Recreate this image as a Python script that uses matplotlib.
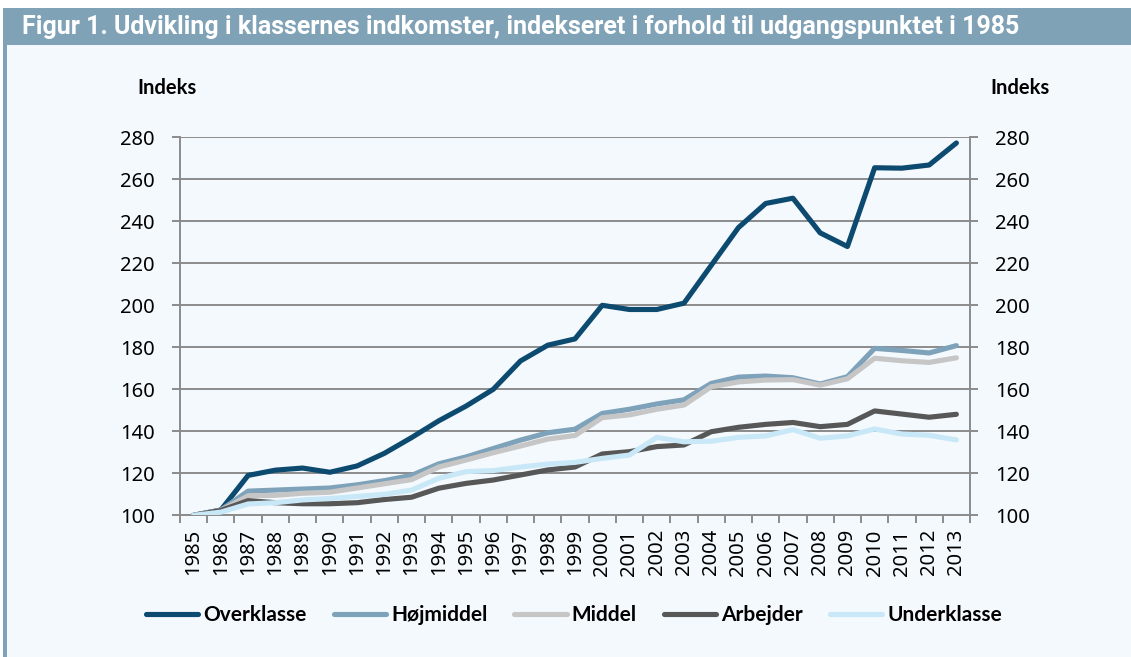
import matplotlib
matplotlib.use("Agg")
import matplotlib.pyplot as plt
from matplotlib.patches import Rectangle
import numpy as np

years = [str(y) for y in range(1985, 2014)]
overklasse = [100, 102.5, 119, 121.5, 122.5, 120.5, 123.5, 129.5, 137, 145, 152, 160, 173.5, 181, 184,
              200, 198, 198, 201, 219, 237, 248.5, 251, 234.5, 228, 265.5, 265.3, 266.8, 277.3]
hojmiddel = [100, 102.5, 111.5, 112, 112.5, 113, 114.5, 116.5, 119, 124.5, 127.8, 131.8, 135.8, 139.3, 141,
             148.5, 150.5, 153, 155, 162.8, 165.8, 166.3, 165.5, 162.5, 166, 179.5, 178.5, 177.3, 180.8]
middel = [100, 102.3, 109.3, 109.5, 110.5, 111, 113, 115, 117, 123, 126.3, 129.8, 133, 136.3, 138,
          146.5, 147.8, 150.5, 152.5, 161.2, 163.5, 164.4, 164.6, 162, 165, 174.8, 173.6, 172.8, 175]
arbejder = [100, 102.3, 107, 106, 105.5, 105.5, 106, 107.5, 108.6, 112.9, 115.2, 116.8, 119.2, 121.6, 123,
            129.2, 130.3, 132.7, 133.5, 139.8, 141.9, 143.3, 144.2, 142.2, 143.3, 149.7, 148.2, 146.7, 148.1]
underklasse = [100, 101.5, 105.4, 106, 107.3, 108, 109, 110, 112, 117.6, 120.8, 121.3, 123, 124.4, 125.2,
               127.1, 128.7, 137.1, 135, 135.3, 137.1, 137.8, 140.8, 136.7, 137.8, 141.1, 138.7, 138.1, 135.9]

series = ["Overklasse", "Højmiddel", "Middel", "Arbejder", "Underklasse"]
colors = ["#0d4a70", "#7ea2b9", "#c6c6c6", "#575757", "#c8e8f8"]
values = [overklasse, hojmiddel, middel, arbejder, underklasse]
yticks = list(range(100, 281, 20))

W, H = 1131, 657
fig = plt.figure(figsize=(W / 100, H / 100), dpi=100, facecolor="white")

bar_col = "#7fa2b7"
bg_col = "#f4f9fd"
grid_col = "#8c8c8c"

# background panel, title bar, left strip
fig.add_artist(Rectangle((7 / W, 0), 1 - 7 / W, 1 - 45 / H, transform=fig.transFigure,
                         facecolor=bg_col, edgecolor="none", zorder=0))
fig.add_artist(Rectangle((3 / W, 1 - 45 / H), 1 - 3 / W, 37 / H, transform=fig.transFigure,
                         facecolor=bar_col, edgecolor="none", zorder=0))
fig.add_artist(Rectangle((3 / W, 0), 4 / W, 1 - 45 / H, transform=fig.transFigure,
                         facecolor=bar_col, edgecolor="none", zorder=0))

fig.text(22 / W, 1 - 27 / H, "Figur 1. Udvikling i klassernes indkomster, indekseret i forhold til udgangspunktet i 1985",
         color="white", fontsize=18, fontweight="bold", family="Roboto", va="center", ha="left")

ax = fig.add_axes([180 / W, 1 - 515.3 / H, 790 / W, 378 / H])
ax.set_facecolor("none")

x = np.arange(len(years))
for name, vals, col in zip(series, values, colors):
    ax.plot(x, vals, color=col, lw=3.7, label=name, solid_capstyle="round",
            solid_joinstyle="round", zorder=3)

ax.set_xlim(-0.5, len(years) - 0.5)
ax.set_ylim(100, 280)
ax.set_yticks(yticks)
ax.yaxis.grid(True, color=grid_col, lw=1.4, zorder=1)
ax.set_axisbelow(True)

ax.spines["top"].set_visible(False)
for s in ["left", "right", "bottom"]:
    ax.spines[s].set_color(grid_col)
    ax.spines[s].set_linewidth(1.4)

ax.set_xticks(np.arange(-0.5, len(years), 1.0))
ax.set_xticklabels([])
ax.set_xticks(x, minor=True)
ax.set_xticklabels(years, minor=True, rotation=90, fontsize=14.5, family="Noto Sans")
ax.tick_params(axis="x", which="major", length=6, width=1.4, color=grid_col, direction="out")
ax.tick_params(axis="x", which="minor", length=0, pad=10)

ax.tick_params(axis="y", which="major", length=6, width=1.4, color=grid_col,
               labelsize=14.5, pad=12, left=True, right=True, labelleft=True, labelright=True)
for lab in ax.get_yticklabels():
    lab.set_family("Noto Sans")

fig.text(137 / W, 1 - 88 / H, "Indeks", fontsize=14.5, fontweight="bold", family="Lato",
         ha="left", va="center")
fig.text(990 / W, 1 - 88 / H, "Indeks", fontsize=14.5, fontweight="bold", family="Lato",
         ha="left", va="center")

leg = fig.legend(loc="center", bbox_to_anchor=(574 / W, 1 - 615 / H), ncol=5, frameon=False,
                 handlelength=2.5, handletextpad=0.25, columnspacing=1.3,
                 prop={"family": "Lato", "weight": "bold", "size": 15})

fig.savefig("out.png", dpi=100, facecolor="white")
